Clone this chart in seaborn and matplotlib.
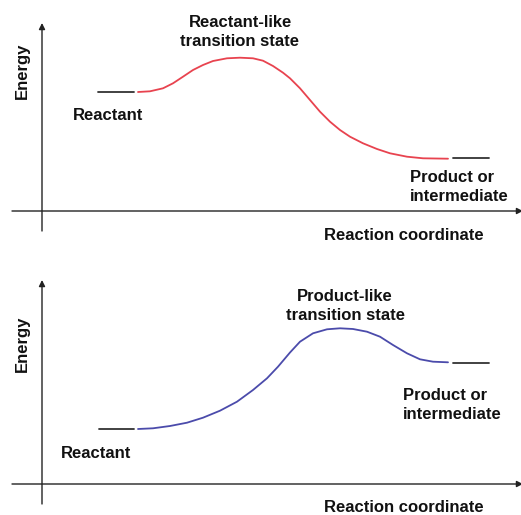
import numpy as np
import pandas as pd
import seaborn as sns
import matplotlib.pyplot as plt

# Reaction coordinate / energy values (arbitrary units)
top_x = [96, 108, 121, 131, 141, 151, 161, 171, 185, 198, 211, 221, 231, 241,
         248, 258, 268, 278, 288, 298, 308, 321, 335, 348, 365, 381, 406]
top_y = [119, 119.7, 122.7, 127.7, 134.3, 141, 146, 150, 152.7, 153.3, 152.7,
         150.3, 145, 138.3, 132.7, 122.7, 111, 99.3, 89.3, 81, 74.3, 67.7, 62,
         57.7, 54.3, 52.7, 52.3]

bot_x = [96, 111, 128, 145, 161, 178, 195, 211, 225, 236, 248, 258, 271, 285,
         298, 311, 325, 338, 351, 365, 378, 391, 406]
bot_y = [55, 55.7, 58, 61.3, 66.3, 73.3, 82.3, 94, 105.7, 117.3, 131.5, 142.3,
         150.7, 154.7, 155.7, 155, 152.3, 147.3, 139, 130.7, 124.7, 122.3, 121.7]

# flat levels for reactant / product (x start, x end, energy)
top_levels = [(56, 92, 119), (411, 447, 53)]
bot_levels = [(57, 92, 55), (411, 447, 121)]

panels = [
    dict(x=top_x, y=top_y, levels=top_levels, color="#e8434f",
         ts="Reactant-like\ntransition state", ts_pos=(198, 179),
         react_pos=(31, 95), prod_pos=(368, 24), ylim=(-46, 211)),
    dict(x=bot_x, y=bot_y, levels=bot_levels, color="#4b4bab",
         ts="Product-like\ntransition state", ts_pos=(303, 178),
         react_pos=(19, 31), prod_pos=(361, 79), ylim=(-31, 227)),
]

sns.set_style("white")
plt.rcParams["font.family"] = ["Liberation Sans", "DejaVu Sans"]

fig = plt.figure(figsize=(5.21, 5.15), dpi=100)
boxes = [[0, 258 / 515, 1, 257 / 515], [0, 0, 1, 258 / 515]]
fs = 12

for box, p in zip(boxes, panels):
    ax = fig.add_axes(box)
    ax.set_xlim(-42, 479)
    ax.set_ylim(*p["ylim"])
    ax.axis("off")

    # axes drawn as arrows
    ax.annotate("", xy=(0, p["ylim"][1] - 23), xytext=(0, -20),
                arrowprops=dict(arrowstyle="-|>", color="#222222", lw=1.0,
                                mutation_scale=9, shrinkA=0, shrinkB=0),
                annotation_clip=False)
    ax.annotate("", xy=(481, 0), xytext=(-30, 0),
                arrowprops=dict(arrowstyle="-|>", color="#222222", lw=1.0,
                                mutation_scale=9, shrinkA=0, shrinkB=0),
                annotation_clip=False)

    df = pd.DataFrame({"x": p["x"], "y": p["y"]})
    sns.lineplot(data=df, x="x", y="y", ax=ax, color=p["color"], lw=1.3,
                 sort=False, estimator=None, solid_joinstyle="round")
    for x0, x1, e in p["levels"]:
        sns.lineplot(x=[x0, x1], y=[e, e], ax=ax, color="#333333", lw=1.3,
                     estimator=None)

    ax.text(*p["ts_pos"], p["ts"], ha="center", va="center", fontsize=fs,
            fontweight="bold", linespacing=1.35, color="#111111")
    ax.text(*p["react_pos"], "Reactant", ha="left", va="center", fontsize=fs,
            fontweight="bold", color="#111111")
    ax.text(*p["prod_pos"], "Product or\nintermediate", ha="left", va="center",
            fontsize=fs, fontweight="bold", linespacing=1.35, color="#111111")
    ax.text(442, -24, "Reaction coordinate", ha="right", va="center",
            fontsize=fs, fontweight="bold", color="#111111")
    ax.text(-20, 140, "Energy", ha="center", va="center", rotation=90,
            fontsize=fs, fontweight="bold", color="#111111")
    ax.set_xlabel("")
    ax.set_ylabel("")

fig.savefig("out.png", dpi=100)
